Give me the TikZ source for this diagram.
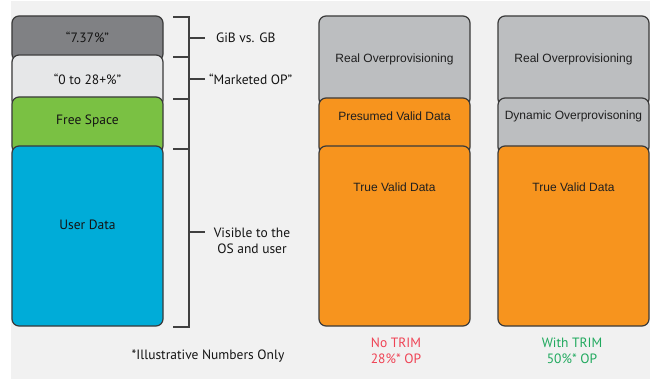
\documentclass[tikz,border=0pt]{standalone}
\usepackage{fontspec}
\setmainfont{PT Sans}
\newfontfamily\boxfont{Liberation Sans}
\definecolor{opbg}{HTML}{F1F1F1}
\definecolor{opline}{HTML}{3A3A3A}
\definecolor{opdark}{HTML}{808184}
\definecolor{oplight}{HTML}{E6E7E8}
\definecolor{opgreen}{HTML}{7AC143}
\definecolor{opblue}{HTML}{00ACD8}
\definecolor{opgray}{HTML}{BCBEC0}
\definecolor{oporange}{HTML}{F7941E}
\definecolor{opred}{HTML}{EF4355}
\definecolor{opok}{HTML}{20A95E}

\begin{document}
\begin{tikzpicture}[
        x=1pt, y=-1pt,
        every node/.style={inner sep=0pt, outer sep=0pt},
        blk/.style={
          draw=opline, line width=1.2pt,
          rounded corners=7pt, anchor=north west,
          minimum width=151pt,
        },
        txt/.style={font=\fontsize{13.5}{15}\selectfont, text=black!92},
        btxt/.style={font=\boxfont\fontsize{12}{14}\selectfont, text=black!88},
        brk/.style={draw=black!75, line width=1.4pt},
        note/.style={font=\fontsize{13.5}{16.5}\selectfont, align=center},
      ]
      \useasboundingbox (0,0) rectangle (650,379);
      \fill[opbg] (11,1) rectangle (650,379);

      % left stack
      \node[blk, fill=opdark,  minimum height=45pt]  (gib)  at (12,16)  {};
      \node[blk, fill=oplight, minimum height=52pt]  (mop)  at (12,55)  {};
      \node[blk, fill=opgreen, minimum height=56pt]  (free) at (12,97)  {};
      \node[blk, fill=opblue,  minimum height=180pt] (user) at (12,146) {};
      \node[txt] (gibt)  at (87.5,37)  {“7.37\%”};
      \node[txt] (mopt)  at (87.5,79)  {“0 to 28+\%”};
      \node[txt] (freet) at (87.5,121) {Free Space};
      \node[txt] (usert) at (87.5,225) {User Data};

      % bracket
      \draw[brk] (173,17) -- (189,17) -- (189,327) -- (173,327);
      \foreach \y in {57,99,149} \draw[brk] (173,\y) -- (189,\y);
      \foreach \y in {38,79,232} \draw[brk] (189,\y) -- (205,\y);
      \node[txt, anchor=west] (gvg) at (216,38) {GiB vs. GB};
      \node[txt, anchor=west] (mkt) at (209,79) {“Marketed OP”};
      \node[txt, note] (vis) at (252,241) {Visible to the\\OS and user};
      \node[txt] (illu) at (208,356) {*Illustrative Numbers Only};

      % no TRIM
      \node[blk, fill=opgray,   minimum height=90pt]  (real1) at (319,16)  {};
      \node[blk, fill=oporange, minimum height=56pt]  (pres)  at (319,98)  {};
      \node[blk, fill=oporange, minimum height=180pt] (true1) at (319,146) {};
      \node[btxt] (real1t) at (394.5,59)  {Real Overprovisioning};
      \node[btxt] (prest)  at (394.5,116) {Presumed Valid Data};
      \node[btxt] (true1t) at (394.5,187) {True Valid Data};
      \node[note, text=opred] (notrim) at (396,351) {No TRIM\\28\%* OP};

      % with TRIM
      \node[blk, fill=opgray,   minimum height=90pt]  (real2) at (498,16)  {};
      \node[blk, fill=opgray,   minimum height=56pt]  (dyn)   at (498,98)  {};
      \node[blk, fill=oporange, minimum height=180pt] (true2) at (498,146) {};
      \node[btxt] (real2t) at (573.5,59)  {Real Overprovisioning};
      \node[btxt] (dynt)   at (573.5,116) {Dynamic Overprovisoning};
      \node[btxt] (true2t) at (573.5,187) {True Valid Data};
      \node[note, text=opok] (withtrim) at (572,351) {With TRIM\\50\%* OP};
    \end{tikzpicture}
\end{document}
